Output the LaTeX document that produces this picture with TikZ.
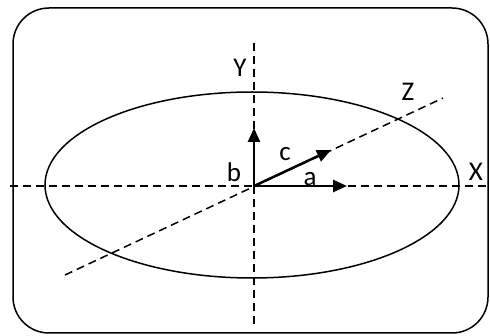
\documentclass[tikz,border=0pt]{standalone}
\usepackage{fontspec}
\setmainfont{Carlito}
\usetikzlibrary{arrows.meta}
\begin{document}
\begin{tikzpicture}[x=1pt,y=-1pt,
  axis/.style={dashed, dash pattern=on 8pt off 5pt, line width=1.5pt},
  vec/.style={line width=2.5pt, -{Triangle[length=14pt,width=12pt]}},
  lbl/.style={font=\fontsize{27}{27}\selectfont, inner sep=0pt},
  outline/.style={line width=1.5pt}]
\useasboundingbox (0,0) rectangle (490,336);
\draw[outline, rounded corners=36pt] (13,8) rectangle (488,333);
\draw[outline] (252,185) ellipse [x radius=207, y radius=93];
\coordinate (O) at (254,186);
\coordinate (xl) at (10,186);
\coordinate (xr) at (486,186);
\coordinate (yt) at (254,43);
\coordinate (yb) at (254,326);
\coordinate (zl) at (65,275);
\coordinate (zr) at (443,98);
\draw[axis] (xl) -- (xr);
\draw[axis] (yt) -- (yb);
\draw[axis] (zl) -- (zr);
\coordinate (ya) at (254,128);
\coordinate (xa) at (347,186);
\coordinate (za) at (331,150);
\draw[vec] (O) -- (ya);
\draw[vec] (O) -- (xa);
\draw[vec] (O) -- (za);
\node[lbl] (Y) at (240,68) {Y};
\node[lbl] (Z) at (408,92) {Z};
\node[lbl] (X) at (476,172) {X};
\node[lbl] (b) at (234,172) {b};
\node[lbl] (c) at (285,154) {c};
\node[lbl] (a) at (310,179) {a};
\end{tikzpicture}
\end{document}
